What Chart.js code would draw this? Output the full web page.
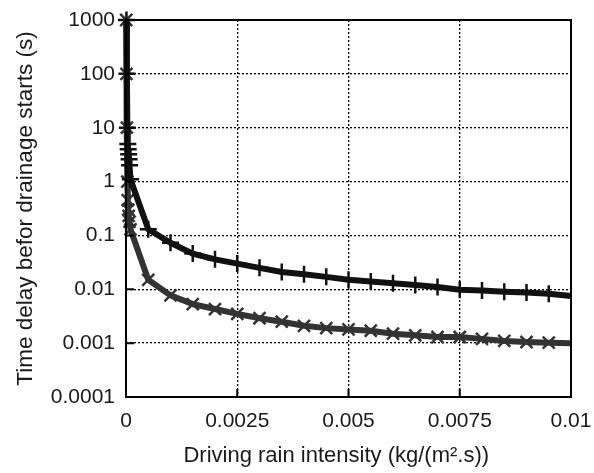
<!DOCTYPE html>
<html>
<head>
<meta charset="utf-8">
<title>Time delay before drainage starts</title>
<script src="https://cdn.jsdelivr.net/npm/chart.js@4.4.1/dist/chart.umd.min.js"></script>
<style>
    html, body { margin: 0; padding: 0; background: #fff; }
    #wrap { width: 594px; height: 473px; }
</style>
</head>
<body>
<div id="wrap"><canvas id="delayChart" width="594" height="473"></canvas></div>
<script>
// Data
const upperX = [0.00001, 0.00002, 0.00003, 0.00004, 0.00005, 0.00006, 0.00007, 0.00008, 0.0001,
    0.0005, 0.001, 0.0015, 0.002, 0.0025, 0.003, 0.0035, 0.004, 0.0045, 0.005,
    0.0055, 0.006, 0.0065, 0.007, 0.0075, 0.008, 0.0085, 0.009, 0.0095, 0.01];
const upperY = [1000, 100, 10, 5, 4, 3.2, 2.6, 2, 1.1,
    0.13, 0.073, 0.046, 0.036, 0.03, 0.025, 0.021, 0.019, 0.017, 0.015,
    0.014, 0.013, 0.012, 0.011, 0.0098, 0.0095, 0.009, 0.0087, 0.0083, 0.0075];

const lowerX = [0.000005, 0.00001, 0.00002, 0.00003, 0.00004, 0.00005, 0.00006, 0.00008, 0.0001,
    0.0005, 0.001, 0.0015, 0.002, 0.0025, 0.003, 0.0035, 0.004, 0.0045, 0.005,
    0.0055, 0.006, 0.0065, 0.007, 0.0075, 0.008, 0.0085, 0.009, 0.0095, 0.01];
const lowerY = [1000, 100, 10, 1, 0.45, 0.3, 0.23, 0.18, 0.13,
    0.015, 0.0077, 0.0053, 0.0043, 0.0035, 0.0029, 0.0025, 0.0021, 0.0019, 0.0018,
    0.0017, 0.0015, 0.0014, 0.0013, 0.0013, 0.0012, 0.0011, 0.00105, 0.00102, 0.001];

const xTicks = [0, 0.0025, 0.005, 0.0075, 0.01];
const xTickLabels = ['0', '0.0025', '0.005', '0.0075', '0.01'];
const yTicks = [0.0001, 0.001, 0.01, 0.1, 1, 10, 100, 1000];
const yTickLabels = ['0.0001', '0.001', '0.01', '0.1', '1', '10', '100', '1000'];

const toPoints = (xs, ys) => xs.map((x, i) => ({ x: x, y: ys[i] }));
// no marker on the last point (line runs to the edge)
const markerSize = (r) => (ctx) => ctx.dataIndex === ctx.dataset.data.length - 1 ? 0 : r;

// frame + inward tick marks
const framePlugin = {
    id: 'frame',
    afterDraw(chart) {
        const { ctx, chartArea: a, scales } = chart;
        ctx.save();
        ctx.strokeStyle = '#000';
        ctx.lineWidth = 2;
        ctx.strokeRect(a.left, a.top, a.right - a.left, a.bottom - a.top);
        ctx.beginPath();
        xTicks.forEach(v => {
            const px = scales.x.getPixelForValue(v);
            ctx.moveTo(px, a.bottom);
            ctx.lineTo(px, a.bottom - 8);
        });
        yTicks.forEach(v => {
            const py = scales.y.getPixelForValue(v);
            ctx.moveTo(a.left, py);
            ctx.lineTo(a.left + 8, py);
        });
        ctx.stroke();
        ctx.restore();
    }
};

const family = 'Liberation Sans, Arial, sans-serif';
const tickFont = { family: family, size: 21 };
const titleFont = { family: family, size: 22 };

new Chart(document.getElementById('delayChart'), {
    type: 'line',
    data: {
        datasets: [
            {
                label: 'upper',
                data: toPoints(upperX, upperY),
                borderColor: '#111',
                backgroundColor: '#111',
                borderWidth: 6,
                pointStyle: 'cross',
                pointRadius: markerSize(8.5),
                pointBorderWidth: 2.5,
                pointBorderColor: '#111',
                tension: 0,
                clip: false
            },
            {
                label: 'lower',
                data: toPoints(lowerX, lowerY),
                borderColor: '#333',
                backgroundColor: '#333',
                borderWidth: 6,
                pointStyle: 'crossRot',
                pointRadius: markerSize(8.5),
                pointBorderWidth: 2.5,
                pointBorderColor: '#333',
                tension: 0,
                clip: false
            }
        ]
    },
    options: {
        responsive: false,
        animation: false,
        layout: { padding: { left: 0, top: 20, right: 23, bottom: 0 } },
        plugins: { legend: { display: false }, tooltip: { enabled: false } },
        scales: {
            x: {
                type: 'linear',
                min: 0,
                max: 0.01,
                afterBuildTicks: (s) => { s.ticks = xTicks.map(v => ({ value: v })); },
                afterFit: (s) => { s.height = 76; s.paddingLeft = 0; s.paddingRight = 0; },
                ticks: {
                    color: '#1a1a1a',
                    font: tickFont,
                    padding: 12,
                    maxRotation: 0,
                    callback: (v, i) => xTickLabels[i]
                },
                grid: { color: '#000', lineWidth: 1.3, drawTicks: false },
                border: { display: false, dash: [2, 2] },
                title: {
                    display: true,
                    // trailing spaces nudge the centred title left, as in the original
                    text: 'Driving rain intensity (kg/(m\u00B2.s))    ',
                    color: '#1a1a1a',
                    font: titleFont,
                    padding: { top: 0, bottom: 4 }
                }
            },
            y: {
                type: 'logarithmic',
                min: 0.0001,
                max: 1000,
                afterBuildTicks: (s) => { s.ticks = yTicks.map(v => ({ value: v })); },
                afterFit: (s) => { s.width = 126; s.paddingTop = 0; s.paddingBottom = 0; },
                ticks: {
                    color: '#1a1a1a',
                    font: tickFont,
                    padding: 11,
                    callback: (v, i) => yTickLabels[i]
                },
                grid: { color: '#000', lineWidth: 1.3, drawTicks: false },
                border: { display: false, dash: [2, 2] },
                title: {
                    display: true,
                    text: 'Time delay befor drainage starts (s)',
                    color: '#1a1a1a',
                    font: { family: family, size: 22.5 },
                    padding: { top: 12, bottom: 0 }
                }
            }
        }
    },
    plugins: [framePlugin]
});
</script>
</body>
</html>
